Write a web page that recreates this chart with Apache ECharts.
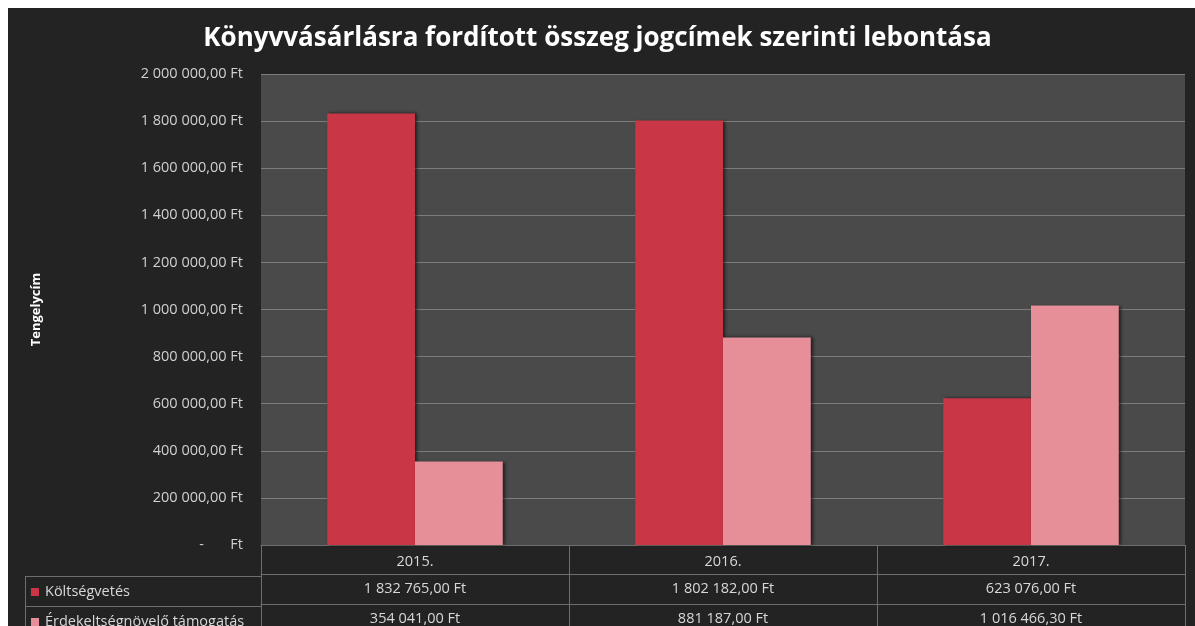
<!DOCTYPE html>
<html lang="hu">
<head>
<meta charset="UTF-8">
<title>Könyvvásárlás</title>
<style>
  html, body { margin: 0; padding: 0; background: #fff; }
  #main { width: 1195px; height: 626px; }
</style>
</head>
<body>
<div id="main"></div>
<script src="https://cdn.jsdelivr.net/npm/echarts@6/dist/echarts.min.js"></script>
<script>
// adatok
var years = ['2015.', '2016.', '2017.'];
var koltsegvetes = [1832765, 1802182, 623076];
var tamogatas = [354041, 881187, 1016466.3];
var seriesNames = ['Költségvetés', 'Érdekeltségnövelő támogatás'];

var RED = '#c93747';
var PINK = '#e68f99';
var LINE = '#6e6e6e';
var FONT = 'Open Sans';

// magyar pénz formátum
function ft(v) {
  var p = v.toFixed(2).split('.');
  return p[0].replace(/\B(?=(\d{3})+(?!\d))/g, ' ') + ',' + p[1] + ' Ft';
}

var chart = echarts.init(document.getElementById('main'));

function tableAxis(data, offset, margin) {
  return {
    type: 'category',
    gridIndex: 0,
    position: 'bottom',
    offset: offset,
    data: data,
    axisLine: { show: true, lineStyle: { color: LINE, width: 1 } },
    axisTick: { show: true, length: 30, lineStyle: { color: LINE } },
    axisLabel: { color: '#d8d8d8', fontSize: 14.5, fontFamily: FONT, margin: margin },
    splitLine: { show: false }
  };
}

var option = {
  backgroundColor: '#fff',
  title: {
    text: 'Könyvvásárlásra fordított összeg jogcímek szerinti lebontása',
    left: 'center',
    top: 21,
    textStyle: { color: '#fff', fontSize: 26, fontWeight: 'bold', fontFamily: FONT }
  },
  graphic: [
    { type: 'rect', z: -10, shape: { x: 8, y: 8, width: 1187, height: 618 }, style: { fill: '#232323' } },
    { type: 'line', shape: { x1: 25, y1: 576.5, x2: 261, y2: 576.5 }, style: { stroke: LINE, lineWidth: 1 } },
    { type: 'line', shape: { x1: 25, y1: 606.5, x2: 261, y2: 606.5 }, style: { stroke: LINE, lineWidth: 1 } },
    { type: 'line', shape: { x1: 25.5, y1: 576, x2: 25.5, y2: 626 }, style: { stroke: LINE, lineWidth: 1 } },
    { type: 'rect', shape: { x: 31, y: 588, width: 8, height: 8 }, style: { fill: RED } },
    { type: 'text', x: 45, y: 592, style: { text: seriesNames[0], fill: '#d8d8d8', font: '14.5px "Open Sans"', verticalAlign: 'middle' } },
    { type: 'rect', shape: { x: 31, y: 618, width: 8, height: 8 }, style: { fill: PINK } },
    { type: 'text', x: 45, y: 622, style: { text: seriesNames[1], fill: '#d8d8d8', font: '14.5px "Open Sans"', verticalAlign: 'middle' } }
  ],
  grid: {
    left: 261, right: 10, top: 74, bottom: 79,
    show: true, backgroundColor: '#4a4a4a', borderWidth: 0
  },
  xAxis: [
    tableAxis(years, 0, 9),
    tableAxis(koltsegvetes.map(ft), 29, 7),
    tableAxis(tamogatas.map(ft), 59, 7)
  ],
  yAxis: {
    type: 'value',
    min: 0,
    max: 2000000,
    interval: 200000,
    name: 'Tengelycím',
    nameLocation: 'middle',
    nameGap: 218,
    nameTextStyle: { color: '#fff', fontSize: 13, fontWeight: 'bold', fontFamily: FONT },
    axisLine: { show: false },
    axisTick: { show: false },
    axisLabel: {
      color: '#d0d0d0', fontSize: 14.5, fontFamily: FONT, margin: 18,
      formatter: function (v) { return v === 0 ? '-       Ft' : ft(v); }
    },
    splitLine: { lineStyle: { color: '#7c7c7c', width: 1 } }
  },
  series: [
    {
      name: seriesNames[0], type: 'bar', xAxisIndex: 0,
      data: koltsegvetes, barGap: '0%', barCategoryGap: '43%',
      itemStyle: { color: RED, shadowColor: 'rgba(0,0,0,0.6)', shadowBlur: 3, shadowOffsetX: 2 }
    },
    {
      name: seriesNames[1], type: 'bar', xAxisIndex: 0,
      data: tamogatas, barGap: '0%', barCategoryGap: '43%',
      itemStyle: { color: PINK, shadowColor: 'rgba(0,0,0,0.6)', shadowBlur: 3, shadowOffsetX: 2 }
    }
  ]
};

chart.setOption(option);
</script>
</body>
</html>
